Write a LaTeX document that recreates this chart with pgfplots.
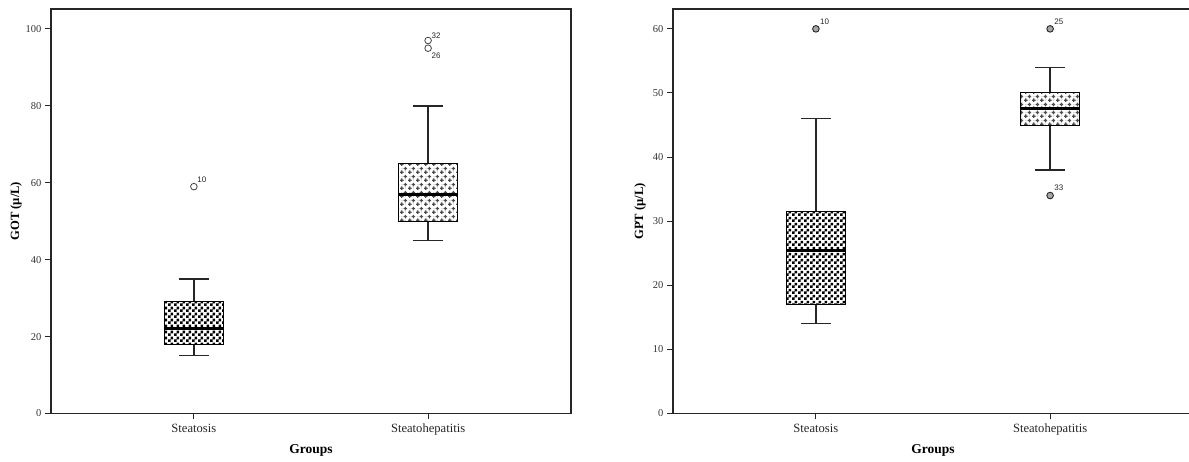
\documentclass[border=0pt]{standalone}
\usepackage{pgfplots}
\pgfplotsset{compat=1.18}
\usetikzlibrary{patterns}
\usepackage{fontspec}
\setmainfont{Liberation Serif}
\newfontfamily\numfont{Liberation Sans}

\pgfdeclarepatternformonly{checkersix}{\pgfpointorigin}{\pgfqpoint{6pt}{6pt}}{\pgfqpoint{6pt}{6pt}}{%
  \pgfpathrectangle{\pgfpointorigin}{\pgfqpoint{3pt}{3pt}}%
  \pgfpathrectangle{\pgfqpoint{3pt}{3pt}}{\pgfqpoint{3pt}{3pt}}%
  \pgfusepath{fill}}
\pgfdeclarepatternformonly{plusgrid}{\pgfpointorigin}{\pgfqpoint{8pt}{8pt}}{\pgfqpoint{8pt}{8pt}}{%
  \pgfsetlinewidth{1.3pt}%
  \pgfpathmoveto{\pgfqpoint{0pt}{2pt}}\pgfpathlineto{\pgfqpoint{4pt}{2pt}}%
  \pgfpathmoveto{\pgfqpoint{2pt}{0pt}}\pgfpathlineto{\pgfqpoint{2pt}{4pt}}%
  \pgfpathmoveto{\pgfqpoint{4pt}{6pt}}\pgfpathlineto{\pgfqpoint{8pt}{6pt}}%
  \pgfpathmoveto{\pgfqpoint{6pt}{4pt}}\pgfpathlineto{\pgfqpoint{6pt}{8pt}}%
  \pgfusepath{stroke}}
\pgfdeclarepatternformonly{dotgrid}{\pgfpointorigin}{\pgfqpoint{8pt}{8pt}}{\pgfqpoint{8pt}{8pt}}{%
  \pgfpathrectangle{\pgfqpoint{5.5pt}{1.5pt}}{\pgfqpoint{1pt}{1pt}}%
  \pgfpathrectangle{\pgfqpoint{1.5pt}{5.5pt}}{\pgfqpoint{1pt}{1pt}}%
  \pgfusepath{fill}}

\tikzset{lab/.style={font=\numfont\fontsize{8}{9}\selectfont, inner sep=0.5pt, text=black!85}}

\pgfplotsset{
  spssbox/.style={
    scale only axis,
    width=520pt, height=404.5pt,
    anchor=south west,
    xmin=0.39, xmax=2.61, ymin=0,
    axis line style={line width=1.5pt, black!85},
    xtick={1,2}, xticklabels={Steatosis, Steatohepatitis},
    tick align=outside, major tick length=6pt,
    tick style={line width=1pt, black!85},
    xtick pos=bottom, ytick pos=left,
    minor tick num=0,
    yticklabel style={font=\fontsize{10.5}{12}\selectfont, text=black!80},
    xticklabel style={font=\fontsize{12.6}{14}\selectfont, text=black!85, yshift=-1pt},
    /pgf/number format/assume math mode=true,
    xlabel={\textbf{Groups}},
    xlabel style={font=\fontsize{13.5}{15}\selectfont, at={(axis description cs:0.5,0)}, anchor=center, yshift=-36.5pt},
    ylabel style={font=\fontsize{12.6}{14}\selectfont\bfseries, at={(axis description cs:0,0.5)}, anchor=center, yshift=35pt},
    clip=false,
  },
  whisk/.style={line width=1.3pt, black!85},
  capline/.style={line width=1.3pt, black!85},
  medline/.style={line width=3pt, black},
  boxline/.style={draw=black, line width=1pt},
  outo/.style={only marks, mark=o, mark size=3.3pt, mark options={draw=black!75, line width=0.8pt}},
  outdot/.style={only marks, mark=*, mark size=3.3pt, mark options={fill=gray!70, draw=black!85, line width=0.9pt}},
}

\begin{document}
\begin{tikzpicture}
\useasboundingbox (0pt,0pt) rectangle (1189pt,462pt);
\clip (0pt,0pt) rectangle (1189pt,462pt);

% ---------- Left: GOT ----------
\begin{axis}[spssbox, at={(51pt,48.5pt)}, ymax=105.2,
  ytick={0,20,40,60,80,100},
  ylabel={GOT (\textmu/L)}]
% Steatosis: lw 15, q1 18, med 22, q3 29, uw 35
\addplot[whisk] coordinates {(1,15) (1,18)};
\addplot[whisk] coordinates {(1,29) (1,35)};
\addplot[capline] coordinates {(0.9375,15) (1.0625,15)};
\addplot[capline] coordinates {(0.9375,35) (1.0625,35)};
\addplot[boxline, pattern=checkersix, pattern color=black] coordinates {(0.875,18) (1.125,18) (1.125,29) (0.875,29)} --cycle;
\addplot[medline] coordinates {(0.875,22) (1.125,22)};
\addplot[outo] coordinates {(1,59)};
% Steatohepatitis: lw 45, q1 50, med 57, q3 65, uw 80
\addplot[whisk] coordinates {(2,45) (2,50)};
\addplot[whisk] coordinates {(2,65) (2,80)};
\addplot[capline] coordinates {(1.9375,45) (2.0625,45)};
\addplot[capline] coordinates {(1.9375,80) (2.0625,80)};
\addplot[draw=none, pattern=dotgrid, pattern color=black!25] coordinates {(1.875,50) (2.125,50) (2.125,65) (1.875,65)} --cycle;
\addplot[boxline, pattern=plusgrid, pattern color=black!70] coordinates {(1.875,50) (2.125,50) (2.125,65) (1.875,65)} --cycle;
\addplot[medline] coordinates {(1.875,57) (2.125,57)};
\addplot[outo] coordinates {(2,97) (2,95)};
\node[lab, anchor=south west] at (axis cs:1.012,59.8) {10};
\node[lab, anchor=south west] at (axis cs:2.012,97.4) {32};
\node[lab, anchor=north west] at (axis cs:2.012,94.0) {26};
\end{axis}

% ---------- Right: GPT ----------
\begin{axis}[spssbox, at={(673pt,48.5pt)}, ymax=63.1,
  ytick={0,10,20,30,40,50,60},
  ylabel style={yshift=-2pt},
  ylabel={GPT (\textmu/L)}]
% Steatosis: lw 14, q1 17, med 25.5, q3 31.5, uw 46
\addplot[whisk] coordinates {(1,14) (1,17)};
\addplot[whisk] coordinates {(1,31.5) (1,46)};
\addplot[capline] coordinates {(0.9375,14) (1.0625,14)};
\addplot[capline] coordinates {(0.9375,46) (1.0625,46)};
\addplot[boxline, pattern=checkersix, pattern color=black] coordinates {(0.875,17) (1.125,17) (1.125,31.5) (0.875,31.5)} --cycle;
\addplot[medline] coordinates {(0.875,25.5) (1.125,25.5)};
\addplot[outdot] coordinates {(1,60)};
% Steatohepatitis: lw 38, q1 45, med 47.5, q3 50, uw 54
\addplot[whisk] coordinates {(2,38) (2,45)};
\addplot[whisk] coordinates {(2,50) (2,54)};
\addplot[capline] coordinates {(1.9375,38) (2.0625,38)};
\addplot[capline] coordinates {(1.9375,54) (2.0625,54)};
\addplot[draw=none, pattern=dotgrid, pattern color=black!25] coordinates {(1.875,45) (2.125,45) (2.125,50) (1.875,50)} --cycle;
\addplot[boxline, pattern=plusgrid, pattern color=black!70] coordinates {(1.875,45) (2.125,45) (2.125,50) (1.875,50)} --cycle;
\addplot[medline] coordinates {(1.875,47.5) (2.125,47.5)};
\addplot[outdot] coordinates {(2,60) (2,34)};
\node[lab, anchor=south west] at (axis cs:1.015,60.5) {10};
\node[lab, anchor=south west] at (axis cs:2.015,60.5) {25};
\node[lab, anchor=south west] at (axis cs:2.015,34.6) {33};
\end{axis}
\end{tikzpicture}
\end{document}
